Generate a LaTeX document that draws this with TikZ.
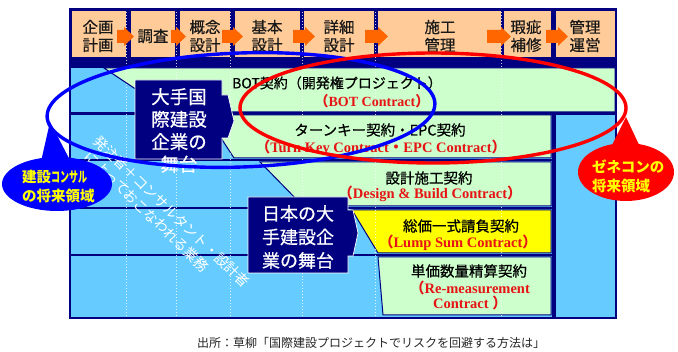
\documentclass[tikz,border=0pt]{standalone}
\usepackage{fontspec}
\usepackage{graphicx}
\newfontfamily\jp{Noto Sans CJK JP}
\newfontfamily\jpm{Noto Sans CJK JP}[FakeBold=0.6]
\newfontfamily\tnr{Liberation Serif}
\definecolor{dnavy}{RGB}{0,0,128}
\definecolor{lblue}{RGB}{102,204,255}
\definecolor{lgreen}{RGB}{204,255,204}
\definecolor{peach}{RGB}{255,204,153}
\definecolor{orng}{RGB}{255,102,0}
\definecolor{tred}{RGB}{230,20,20}
\definecolor{yel}{RGB}{255,255,0}
\definecolor{cblue}{RGB}{0,0,255}
\definecolor{cred}{RGB}{255,0,0}
\tikzset{
 hdr/.style={draw=dnavy, line width=0.6pt, fill=peach},
 hdrtxt/.style={font=\jpm\fontsize{15.5}{18}\selectfont, align=center, inner sep=0pt, text=black!90},
 rowbox/.style={draw=dnavy, line width=1pt, fill=lgreen},
 jtxt/.style={font=\jpm\fontsize{14.5}{17}\selectfont, inner sep=0pt, text=black},
 etxt/.style={font=\tnr\bfseries\fontsize{14.5}{16}\selectfont, text=tred, inner sep=0pt},
 gridln/.style={white, line width=0.5pt, dash pattern=on 1.5pt off 1.5pt, opacity=0.8},
 stagebox/.style={fill=dnavy, draw=white, line width=0.7pt},
 stagetxt/.style={text=white, align=center, inner sep=0pt},
 diagtxt/.style={font=\jp\fontsize{14}{16}\selectfont, text=white, inner sep=0pt, rotate=-44},
 calltxt/.style={font=\jp\bfseries\fontsize{14.5}{19}\selectfont, text=yel, align=left, inner sep=0pt},
 ringln/.style={line width=3.4pt}
}
\begin{document}
\begin{tikzpicture}[x=1pt,y=-1pt]
\useasboundingbox (0,0) rectangle (678,352);
\fill[white] (0,0) rectangle (678,352);
% frame
\fill[dnavy] (70,9) rectangle (616,318);
% header boxes
\foreach \a/\b in {71/126,130/175,179/230,234/300,303/374,377/501,503/551,555/615}
  \draw[hdr] (\a,10.5) rectangle (\b,57.5);
% body
\fill[lblue] (71,68) rectangle (615,317);
\draw[dnavy, line width=3pt] (70,113.5) -- (616,113.5);
\foreach \y in {160,208,255}
  \draw[dnavy, line width=2.5pt] (70,\y) -- (553,\y);
\draw[dnavy, line width=4pt] (553.5,113) -- (553.5,317);
% contract rows
\filldraw[rowbox] (104,68) -- (615,68) -- (615,112) -- (170,112) -- cycle;
\filldraw[rowbox] (206,115) -- (551,115) -- (551,158) -- (234,158) -- cycle;
\filldraw[rowbox] (260,162) -- (551,162) -- (551,206) -- (303,206) -- cycle;
\filldraw[rowbox, fill=yel] (352,210) -- (551,210) -- (551,253) -- (378,253) -- cycle;
\filldraw[rowbox] (378,257) -- (551,257) -- (551,315) -- (383,315) -- cycle;
% grid lines
\foreach \x in {126,176,230,302,375,501}
  \draw[gridln] (\x,9) -- (\x,317);
% header arrows
\foreach \a/\b in {117/134,171/186,222/243,293/315,365/388,487/511,546/568}
  \fill[orng] (\a,30) -- ({\b-10},30) -- ({\b-10},27) -- (\b,36.5) -- ({\b-10},46) -- ({\b-10},43) -- (\a,43) -- cycle;
% header labels
\node[hdrtxt] (h1) at (98,36) {企画\\計画};
\node[hdrtxt] (h2) at (153,36) {調査};
\node[hdrtxt] (h3) at (205,36) {概念\\設計};
\node[hdrtxt] (h4) at (267,36) {基本\\設計};
\node[hdrtxt] (h5) at (339,36) {詳細\\設計};
\node[hdrtxt] (h6) at (440,36) {施工\\管理};
\node[hdrtxt] (h7) at (526,36) {瑕疵\\補修};
\node[hdrtxt] (h8) at (585,36) {管理\\運営};
% row texts
\node[jtxt, font=\jpm\fontsize{14}{17}\selectfont] (r1a) at (337,83) {BOT契約（開発権プロジェクト）};
\node[etxt, font=\tnr\bfseries\fontsize{14}{16}\selectfont] (r1b) at (372,101) {{\jp （}BOT Contract{\jp ）}};
\node[jtxt] (r2a) at (380,130) {ターンキー契約・EPC契約};
\node[etxt] (r2b) at (381,148) {{\jp （}Turn Key Contract{\jp ・}EPC Contract{\jp ）}};
\node[jtxt] (r3a) at (429,178) {設計施工契約};
\node[etxt] (r3b) at (430,194) {{\jp （}Design \& Build Contract{\jp ）}};
\node[jtxt] (r4a) at (461,226) {総価一式請負契約};
\node[etxt] (r4b) at (458,243) {{\jp （}Lump Sum Contract{\jp ）}};
\node[jtxt] (r5a) at (469,271) {単価数量精算契約};
\node[etxt] (r5b) at (470,288) {{\jp （}Re-measurement};
\node[etxt] (r5c) at (470,303) {Contract {\jp ）}};
% diagonal text
\node[diagtxt] (dg1) at (171.5,211.5) {発注者＋コンサルタント・設計者};
\node[diagtxt] (dg2) at (147,211.5) {によっておこなわれる業務};
% stage boxes
\filldraw[stagebox] (135,80) -- (222,80) -- (222,95) -- (228,95) -- (234,121) -- (228,138) -- (222,138) -- (222,159) -- (135,159) -- cycle;
\node[stagetxt, font=\jpm\fontsize{18.5}{22.5}\selectfont] (st1) at (179,130.5) {大手国\\際建設\\企業の\\舞台};
\filldraw[stagebox] (248,197) -- (348,197) -- (348,210) -- (353,210) -- (358,233) -- (353,256) -- (348,256) -- (348,273) -- (248,273) -- cycle;
\node[stagetxt, font=\jpm\fontsize{18}{23.5}\selectfont] (st2) at (298,237) {日本の大\\手建設企\\業の舞台};
% outer border
\draw[dnavy, line width=1.5pt] (70,9) rectangle (616,318);
% big rings
\draw[ringln, cblue, rotate around={2:(241,110)}] (241,110) ellipse [x radius=194pt, y radius=57pt];
\draw[ringln, cred] (433,108) ellipse [x radius=193pt, y radius=55pt];
% callouts
\fill[cblue] (40,166) -- (50,122) -- (72,164) -- cycle;
\fill[cblue] (57,184) ellipse [x radius=55pt, y radius=27pt];
\node[calltxt, anchor=west] (c1) at (22,187) {建設\scalebox{0.62}[1]{コンサル}\\の将来領域};
\fill[cred] (610,149) -- (626,117) -- (641,149) -- cycle;
\fill[cred] (626,172) ellipse [x radius=48pt, y radius=29pt];
\node[calltxt, anchor=west] (c2) at (592,176) {ゼネコンの\\将来領域};
% source
\node[font=\jp\fontsize{12}{14}\selectfont, inner sep=0pt, text=black!85] (src) at (371,343) {出所：草柳「国際建設プロジェクトでリスクを回避する方法は」};
\end{tikzpicture}
\end{document}
